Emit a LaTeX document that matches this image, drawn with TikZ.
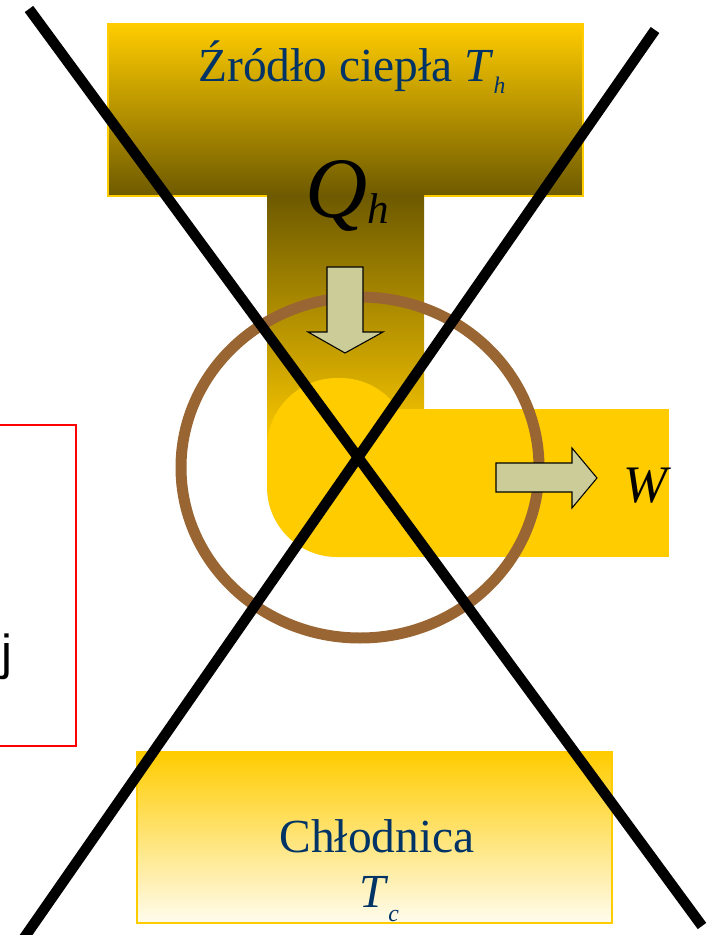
\documentclass[tikz,border=0pt]{standalone}
\usepackage{fontspec}
\setmainfont{Liberation Serif}
\newfontfamily\labelsans{Liberation Sans}
\usepackage{graphicx}
\definecolor{gold}{HTML}{FFCC00}
\definecolor{olivedark}{HTML}{6E5A00}
\definecolor{coolpale}{HTML}{FFFCEE}
\definecolor{ringbrown}{HTML}{996633}
\definecolor{arrowfill}{HTML}{CCCC99}
\definecolor{labelblue}{HTML}{003366}
\definecolor{framered}{HTML}{FF0000}
\newcommand{\lowsub}[2][0.22em]{\raisebox{-#1}{\scalebox{0.5}{\textit{#2}}}}
\tikzset{
  reservoir/.style={draw=gold, line width=1.1pt},
  hot/.style={reservoir, top color=gold, bottom color=olivedark},
  cold/.style={reservoir, top color=gold, bottom color=coolpale},
  blockarrow/.style={draw=black, line width=0.6pt, fill=arrowfill, line join=miter},
  ring/.style={draw=ringbrown, line width=0.22cm},
  cross/.style={draw=black, line width=0.21cm},
  txt/.style={inner sep=0pt, font=\fontsize{27}{30}\selectfont, text=labelblue},
}

\begin{document}
\begin{tikzpicture}[x=0.02cm, y=-0.02cm]
  \useasboundingbox (0,0) rectangle (706,935);
  \draw[framered, line width=1.1pt] (-20,425) rectangle (76,746);
  \node[inner sep=0pt, anchor=base east, font=\labelsans\fontsize{28}{30}\selectfont] (cutlabel) at (13,669) {ej};
  \draw[hot] (108,24) rectangle (583,196);
  \draw[cold] (137,752) rectangle (612,923);
  \shade[top color=olivedark, bottom color=gold] (267,196) rectangle (424,455);
  \fill[gold] (410,557) -- (352,557) [rounded corners=1.4cm] -- (267,557) -- (267,378) -- (410,378) [sharp corners] -- cycle;
  \fill[gold] (352,409) rectangle (669,557);
  \draw[ring] (360,467.5) ellipse [x radius=179, y radius=170.5];
  \draw[blockarrow] (327,267) -- (363,267) -- (363,332) -- (383,332) -- (345,353) -- (308,332) -- (327,332) -- cycle;
  \draw[blockarrow] (496,463) -- (572,463) -- (572,448) -- (597,478) -- (572,508) -- (572,492) -- (496,492) -- cycle;
  \node[txt, anchor=base] (source) at (352,82) {Źródło ciepła \textit{T}\lowsub[0.24em]{h}};
  \node[txt, text=black, anchor=base, font=\fontsize{49}{52}\selectfont] (heatin) at (347,218) {\textit{Q}\lowsub[0.06em]{h}};
  \node[txt, text=black, anchor=base west, font=\fontsize{30}{32}\selectfont] (work) at (623,502) {\textit{W}};
  \node[txt, anchor=base] (sink) at (377,852) {Chłodnica};
  \node[txt, anchor=base] (sinktemp) at (379,907) {\textit{T}\lowsub[0.3em]{c}};
  \draw[cross] (29,9) -- (702,926);
  \draw[cross] (655,30) -- (24,938);
\end{tikzpicture}
\end{document}
